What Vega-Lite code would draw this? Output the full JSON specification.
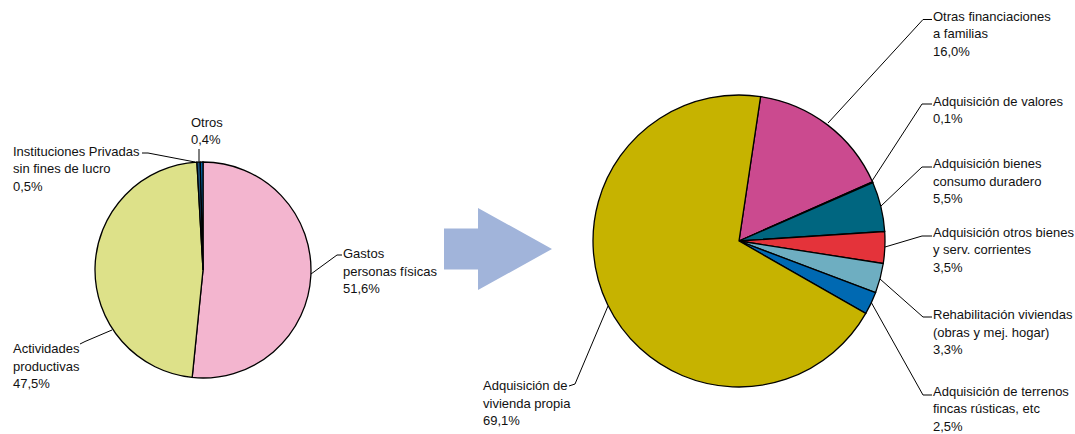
{
  "$schema": "https://vega.github.io/schema/vega-lite/v6.json",
  "width": 1075,
  "height": 434,
  "autosize": {"type": "fit", "contains": "padding"},
  "padding": 0,
  "background": "white",
  "config": {"view": {"stroke": null}},
  "datasets": {
    "sectores": [
      {"pie": "izquierda", "ord": 1, "cat": "Gastos personas físicas", "pct": 51.6, "label": "Gastos\npersonas físicas\n51,6%"},
      {"pie": "izquierda", "ord": 2, "cat": "Actividades productivas", "pct": 47.5, "label": "Actividades\nproductivas\n47,5%"},
      {"pie": "izquierda", "ord": 3, "cat": "Instituciones Privadas sin fines de lucro", "pct": 0.5, "label": "Instituciones Privadas\nsin fines de lucro\n0,5%"},
      {"pie": "izquierda", "ord": 4, "cat": "Otros", "pct": 0.4, "label": "Otros\n0,4%"},
      {"pie": "derecha", "ord": 5, "cat": "Otras financiaciones a familias", "pct": 16.0, "label": "Otras financiaciones\na familias\n16,0%"},
      {"pie": "derecha", "ord": 6, "cat": "Adquisición de valores", "pct": 0.1, "label": "Adquisición de valores\n0,1%"},
      {"pie": "derecha", "ord": 7, "cat": "Adquisición bienes consumo duradero", "pct": 5.5, "label": "Adquisición bienes\nconsumo duradero\n5,5%"},
      {"pie": "derecha", "ord": 8, "cat": "Adquisición otros bienes y serv. corrientes", "pct": 3.5, "label": "Adquisición otros bienes\ny serv. corrientes\n3,5%"},
      {"pie": "derecha", "ord": 9, "cat": "Rehabilitación viviendas (obras y mej. hogar)", "pct": 3.3, "label": "Rehabilitación viviendas\n(obras y mej. hogar)\n3,3%"},
      {"pie": "derecha", "ord": 10, "cat": "Adquisición de terrenos fincas rústicas, etc", "pct": 2.5, "label": "Adquisición de terrenos\nfincas rústicas, etc\n2,5%"},
      {"pie": "derecha", "ord": 11, "cat": "Adquisición de vivienda propia", "pct": 69.1, "label": "Adquisición de\nvivienda propia\n69,1%"}
    ]
  },
  "layer": [
    {
      "data": {"name": "sectores"},
      "transform": [
        {"fold": ["cat", "label", "pie"], "as": ["campo", "valor"]},
        {"window": [{"op": "row_number", "as": "v"}]}
      ],
      "mark": {"type": "line", "color": "#000000", "strokeWidth": 1},
      "encoding": {
        "x": {"field": "v", "type": "quantitative", "axis": null,
          "scale": {"zero": false, "nice": false,
            "domain": [1,2,3,4,5,6,7,8,9,10,11,12,13,14,15,16,17,18,19,20,21,22,23,24,25,26,27,28,29,30,31,32,33],
            "range": [311,337,342, 112,85,80, 195,148,142, 199,199,199, 828,923,932, 872,922,932, 881,922,932, 885,922,932, 880,923,932, 871,923,932, 608,575,569]}},
        "y": {"field": "v", "type": "quantitative", "axis": null,
          "scale": {"zero": false, "nice": false,
            "domain": [1,2,3,4,5,6,7,8,9,10,11,12,13,14,15,16,17,18,19,20,21,22,23,24,25,26,27,28,29,30,31,32,33],
            "range": [274,255,255, 330,341.5,344, 162,153,153, 162,149,149, 123,19.5,19.5, 181,104,104, 206,167,167, 247,236,236, 279,317,317, 302,395,395, 306,384,386]}},
        "detail": {"field": "ord", "type": "nominal"},
        "order": {"field": "v", "type": "quantitative"}
      }
    },
    {
      "data": {"name": "sectores"},
      "transform": [
        {"filter": "datum.pie === 'izquierda'"},
        {"stack": "pct", "groupby": ["pie"], "sort": [{"field": "ord", "order": "ascending"}], "as": ["t0", "t1"]}
      ],
      "mark": {"type": "arc", "radius": 108, "stroke": "#000000", "strokeWidth": 1.3},
      "encoding": {
        "x": {"field": "ord", "type": "quantitative", "axis": null, "scale": {"domain": [1, 4], "range": [203, 203], "zero": false, "nice": false}},
        "y": {"field": "ord", "type": "quantitative", "axis": null, "scale": {"domain": [1, 4], "range": [270, 270], "zero": false, "nice": false}},
        "theta": {"field": "t0", "type": "quantitative", "scale": {"domain": [0, 100], "range": [0, 6.283185]}},
        "theta2": {"field": "t1"},
        "color": {"field": "cat", "type": "nominal", "legend": null,
          "scale": {"domain": ["Gastos personas físicas", "Actividades productivas", "Instituciones Privadas sin fines de lucro", "Otros"],
            "range": ["#f3b5cf", "#dde189", "#1d4f7a", "#0069b2"]}}
      }
    },
    {
      "data": {"name": "sectores"},
      "transform": [
        {"filter": "datum.pie === 'derecha'"},
        {"stack": "pct", "groupby": ["pie"], "sort": [{"field": "ord", "order": "ascending"}], "as": ["t0", "t1"]}
      ],
      "mark": {"type": "arc", "radius": 146, "stroke": "#000000", "strokeWidth": 1.3},
      "encoding": {
        "x": {"field": "ord", "type": "quantitative", "axis": null, "scale": {"domain": [5, 11], "range": [739, 739], "zero": false, "nice": false}},
        "y": {"field": "ord", "type": "quantitative", "axis": null, "scale": {"domain": [5, 11], "range": [241, 241], "zero": false, "nice": false}},
        "theta": {"field": "t0", "type": "quantitative", "scale": {"domain": [0, 100], "range": [0.1484, 6.4316]}},
        "theta2": {"field": "t1"},
        "color": {"field": "cat", "type": "nominal", "legend": null,
          "scale": {"domain": ["Otras financiaciones a familias", "Adquisición de valores", "Adquisición bienes consumo duradero", "Adquisición otros bienes y serv. corrientes", "Rehabilitación viviendas (obras y mej. hogar)", "Adquisición de terrenos fincas rústicas, etc", "Adquisición de vivienda propia"],
            "range": ["#cb4a8f", "#2b2b2b", "#006680", "#e4333a", "#6eaec1", "#0069b2", "#c6b300"]}}
      }
    },
    {
      "data": {"name": "sectores"},
      "mark": {"type": "text", "align": "left", "baseline": "alphabetic", "font": "Liberation Sans, Arial, sans-serif", "fontSize": 13, "lineHeight": 17.5, "lineBreak": "\n", "color": "#111111"},
      "encoding": {
        "x": {"field": "ord", "type": "quantitative", "axis": null,
          "scale": {"zero": false, "nice": false, "domain": [1,2,3,4,5,6,7,8,9,10,11],
            "range": [343, 13, 13, 191, 933, 933, 933, 933, 933, 933, 483]}},
        "y": {"field": "ord", "type": "quantitative", "axis": null,
          "scale": {"zero": false, "nice": false, "domain": [1,2,3,4,5,6,7,8,9,10,11],
            "range": [258, 353, 155.5, 126.5, 20.5, 105.5, 168, 236.5, 319, 395.5, 390]}},
        "text": {"field": "label", "type": "nominal"}
      }
    },
    {
      "data": {"values": [{"forma": "flecha"}]},
      "mark": {"type": "point", "shape": "M-1,-0.38L-0.37,-0.38L-0.37,-0.76L1,0L-0.37,0.76L-0.37,0.38L-1,0.38Z", "size": 11664, "filled": true, "color": "#a1b4da", "opacity": 1, "strokeWidth": 0},
      "encoding": {
        "x": {"field": "forma", "type": "nominal", "axis": null, "scale": {"type": "point", "domain": ["flecha"], "range": [444, 552]}},
        "y": {"field": "forma", "type": "nominal", "axis": null, "scale": {"type": "point", "domain": ["flecha"], "range": [208, 290]}}
      }
    }
  ],
  "resolve": {"scale": {"x": "independent", "y": "independent", "theta": "independent", "color": "independent"}}
}
